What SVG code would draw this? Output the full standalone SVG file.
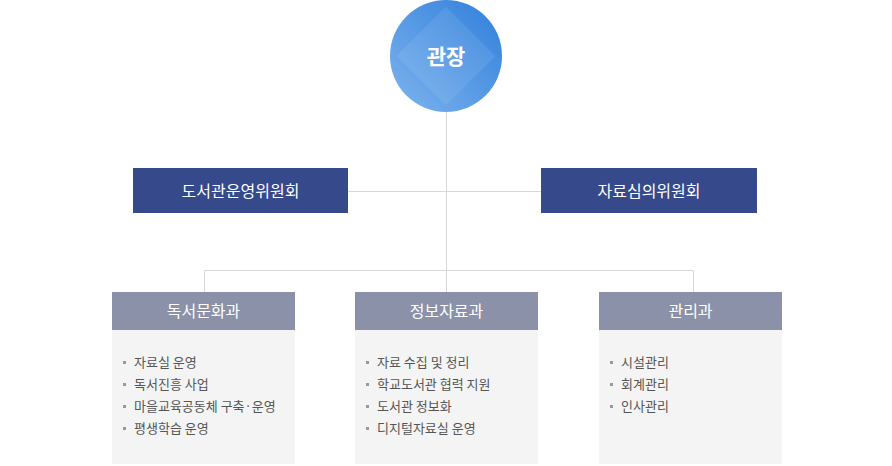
<svg xmlns="http://www.w3.org/2000/svg" width="892" height="466" viewBox="0 0 892 466">
<style>
.t{font-family:"Noto Sans CJK KR","Noto Sans",sans-serif;fill:#fff;text-anchor:middle}
.c{fill:#35498b}
.h{fill:#8a91a9}
.b{fill:#f4f4f4}
.i{font-family:"Noto Sans CJK KR","Noto Sans",sans-serif;font-size:13px;fill:#555}
.d{fill:#999}
.ln{stroke:#d8d8d8;stroke-width:1;fill:none}
</style>
<defs>
<linearGradient id="g" x1="1" y1="0" x2="0" y2="1">
<stop offset="0" stop-color="#2f7fdb"/><stop offset="1" stop-color="#7eb4ee"/>
</linearGradient>
</defs>
<g id="connectors">
<path class="ln" d="M446.5 112V292M348 191.5H541M204.5 292V270.5H693.5V292"/>
</g>
<g id="director">
<circle cx="446" cy="56" r="56" fill="url(#g)"/>
<rect x="411" y="21" width="70" height="70" fill="#fff" opacity="0.08" transform="rotate(45 446 56)"/>
<text class="t" x="446" y="64" font-size="21" font-weight="bold">관장</text>
</g>
<g id="committee1"><rect class="c" x="133" y="168" width="215" height="45"/><text class="t" x="240.5" y="197" font-size="16">도서관운영위원회</text></g>
<g id="committee2"><rect class="c" x="541" y="168" width="216" height="45"/><text class="t" x="649" y="197" font-size="16">자료심의위원회</text></g>
<g id="dept1">
<rect class="b" x="112" y="292" width="183" height="172"/><rect class="h" x="112" y="292" width="183" height="38"/>
<text class="t" x="203.5" y="317" font-size="16">독서문화과</text>
<rect class="d" x="123" y="361" width="3" height="3"/><text class="i" x="134" y="367">자료실 운영</text>
<rect class="d" x="123" y="383" width="3" height="3"/><text class="i" x="134" y="389">독서진흥 사업</text>
<rect class="d" x="123" y="405" width="3" height="3"/><text class="i" x="134" y="411">마을교육공동체 구축·운영</text>
<rect class="d" x="123" y="427" width="3" height="3"/><text class="i" x="134" y="433">평생학습 운영</text>
</g>
<g id="dept2">
<rect class="b" x="355" y="292" width="183" height="172"/><rect class="h" x="355" y="292" width="183" height="38"/>
<text class="t" x="446.5" y="317" font-size="16">정보자료과</text>
<rect class="d" x="366" y="361" width="3" height="3"/><text class="i" x="377" y="367">자료 수집 및 정리</text>
<rect class="d" x="366" y="383" width="3" height="3"/><text class="i" x="377" y="389">학교도서관 협력 지원</text>
<rect class="d" x="366" y="405" width="3" height="3"/><text class="i" x="377" y="411">도서관 정보화</text>
<rect class="d" x="366" y="427" width="3" height="3"/><text class="i" x="377" y="433">디지털자료실 운영</text>
</g>
<g id="dept3">
<rect class="b" x="599" y="292" width="183" height="172"/><rect class="h" x="599" y="292" width="183" height="38"/>
<text class="t" x="690.5" y="317" font-size="16">관리과</text>
<rect class="d" x="610" y="361" width="3" height="3"/><text class="i" x="621" y="367">시설관리</text>
<rect class="d" x="610" y="383" width="3" height="3"/><text class="i" x="621" y="389">회계관리</text>
<rect class="d" x="610" y="405" width="3" height="3"/><text class="i" x="621" y="411">인사관리</text>
</g>
</svg>
